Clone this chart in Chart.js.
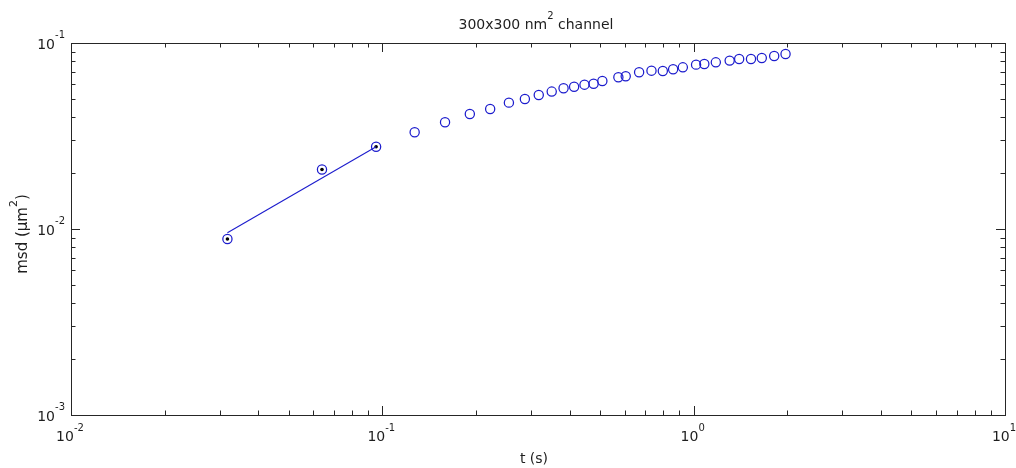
<!DOCTYPE html>
<html>
<head>
<meta charset="utf-8">
<script src="https://cdn.jsdelivr.net/npm/chart.js@4.4.1/dist/chart.umd.min.js"></script>
<style>
  html, body { margin: 0; padding: 0; background: #fff; }
  #wrap { width: 1016px; height: 468px; }
</style>
</head>
<body>
<div id="wrap"><canvas id="grafikMsd" width="1016" height="468"></canvas></div>
<script>
// === DATA ===
// first three points used for the fit (marked with a dot)
const fitT   = [0.0318, 0.0640, 0.0955];
const fitMsd = [0.00883, 0.0209, 0.0277];

// fitted line (two end points)
const lineT   = [0.0318, 0.0955];
const lineMsd = [0.00955, 0.0277];

// remaining msd points
const tRest = [0.127, 0.159, 0.191, 0.222, 0.255, 0.287, 0.318, 0.350, 0.382, 0.413,
               0.446, 0.477, 0.509, 0.573, 0.605, 0.668, 0.732, 0.796, 0.859, 0.923,
               1.018, 1.082, 1.178, 1.305, 1.400, 1.528, 1.655, 1.814, 1.973];
const msdRest = [0.0331, 0.0375, 0.0415, 0.0442, 0.0478, 0.0500, 0.0525, 0.0548, 0.0571, 0.0582,
                 0.0597, 0.0604, 0.0625, 0.0654, 0.0663, 0.0696, 0.0710, 0.0707, 0.0722, 0.0740,
                 0.0765, 0.0771, 0.0787, 0.0804, 0.0820, 0.0820, 0.0830, 0.0851, 0.0873];

// tick labels (10^exp)
const xDecades = [0.01, 0.1, 1, 10];
const xExp     = ['-2', '-1', '0', '1'];
const yDecades = [0.001, 0.01, 0.1];
const yExp     = ['-3', '-2', '-1'];

// === STYLE ===
const BLUE = 'rgb(28,28,205)';
const AXIS = '#262626';
const TEXT = '#1e1e1e';
const FONT = '14px "DejaVu Sans", sans-serif';
const SUP  = '10px "DejaVu Sans", sans-serif';
const FONT_Y = '15px "DejaVu Sans", sans-serif';
const SUP_Y  = '11px "DejaVu Sans", sans-serif';

const toXY = (xs, ys) => xs.map((x, i) => ({ x, y: ys[i] }));

// tulis teks dengan pangkat (superscript)
function drawParts(ctx, parts, x, y, align, fonts) {
  const f = fonts || [FONT, SUP];
  let w = 0;
  parts.forEach(p => { ctx.font = p.sup ? f[1] : f[0]; p.w = ctx.measureText(p.t).width; w += p.w; });
  let cx = align === 'right' ? x - w : align === 'center' ? x - w / 2 : x;
  ctx.textAlign = 'left';
  ctx.textBaseline = 'alphabetic';
  parts.forEach(p => {
    ctx.font = p.sup ? f[1] : f[0];
    ctx.fillText(p.t, cx, p.sup ? y - 10.5 : y);
    cx += p.w;
  });
}

// === AXES ala MATLAB ===
const axesMatlab = {
  id: 'axesMatlab',
  beforeDatasetsDraw(chart) {
    const { ctx, chartArea: a, scales } = chart;
    const sx = scales.x, sy = scales.y;
    ctx.save();
    ctx.strokeStyle = AXIS;
    ctx.lineWidth = 1;
    ctx.strokeRect(a.left + 0.5, a.top + 0.5, a.right - a.left, a.bottom - a.top);

    const MAJ = 9, MIN = 4.5;
    ctx.beginPath();
    // x ticks
    for (let i = 0; i < xDecades.length; i++) {
      const d = xDecades[i];
      const px = Math.round(sx.getPixelForValue(d)) + 0.5;
      ctx.moveTo(px, a.bottom); ctx.lineTo(px, a.bottom - MAJ);
      ctx.moveTo(px, a.top);    ctx.lineTo(px, a.top + MAJ);
      if (i < xDecades.length - 1) {
        for (let k = 2; k <= 9; k++) {
          const mx = Math.round(sx.getPixelForValue(d * k)) + 0.5;
          ctx.moveTo(mx, a.bottom); ctx.lineTo(mx, a.bottom - MIN);
          ctx.moveTo(mx, a.top);    ctx.lineTo(mx, a.top + MIN);
        }
      }
    }
    // y ticks
    for (let i = 0; i < yDecades.length; i++) {
      const d = yDecades[i];
      const py = Math.round(sy.getPixelForValue(d)) + 0.5;
      ctx.moveTo(a.left, py);  ctx.lineTo(a.left + MAJ, py);
      ctx.moveTo(a.right, py); ctx.lineTo(a.right - MAJ, py);
      if (i < yDecades.length - 1) {
        for (let k = 2; k <= 9; k++) {
          const my = Math.round(sy.getPixelForValue(d * k)) + 0.5;
          ctx.moveTo(a.left, my);  ctx.lineTo(a.left + MIN, my);
          ctx.moveTo(a.right, my); ctx.lineTo(a.right - MIN, my);
        }
      }
    }
    ctx.stroke();
    ctx.restore();
  },
  afterDraw(chart) {
    const { ctx, chartArea: a, scales } = chart;
    const sx = scales.x, sy = scales.y;
    ctx.save();
    ctx.fillStyle = TEXT;

    xDecades.forEach((d, i) => {
      const px = sx.getPixelForValue(d);
      drawParts(ctx, [{ t: '10' }, { t: xExp[i], sup: true }], px - 1, a.bottom + 26, 'center');
    });
    yDecades.forEach((d, i) => {
      const py = sy.getPixelForValue(d);
      drawParts(ctx, [{ t: '10' }, { t: yExp[i], sup: true }], a.left - 6, py + 5.5, 'right');
    });

    // judul
    drawParts(ctx, [{ t: '300x300 nm' }, { t: '2', sup: true }, { t: ' channel' }],
      (a.left + a.right) / 2 - 2, 29, 'center');
    // label x
    drawParts(ctx, [{ t: 't (s)' }], (a.left + a.right) / 2 - 4, 463, 'center');
    // label y (diputar)
    ctx.translate(27, (a.top + a.bottom) / 2 + 5);
    ctx.rotate(-Math.PI / 2);
    drawParts(ctx, [{ t: 'msd (\u03bcm' }, { t: '2', sup: true }, { t: ')' }], 0, 0, 'center', [FONT_Y, SUP_Y]);
    ctx.restore();
  }
};

// === CHART ===
const ctx = document.getElementById('grafikMsd').getContext('2d');
new Chart(ctx, {
  type: 'scatter',
  data: {
    datasets: [
      {
        label: 'fit',
        data: toXY(lineT, lineMsd),
        showLine: true,
        borderColor: BLUE, borderWidth: 1.1,
        pointRadius: 0,
      },
      {
        label: 'fit points',
        data: toXY(fitT, fitMsd),
        pointStyle: 'circle', pointRadius: 4.6,
        borderColor: BLUE, borderWidth: 1.25, backgroundColor: 'rgba(0,0,0,0)',
      },
      {
        label: 'fit dots',
        data: toXY(fitT, fitMsd),
        pointStyle: 'circle', pointRadius: 1.8,
        borderWidth: 0, backgroundColor: '#000',
      },
      {
        label: 'msd',
        data: toXY(tRest, msdRest),
        pointStyle: 'circle', pointRadius: 4.6,
        borderColor: BLUE, borderWidth: 1.25, backgroundColor: 'rgba(0,0,0,0)',
      }
    ]
  },
  options: {
    responsive: false,
    animation: false,
    layout: { padding: { left: 71, right: 11, top: 43, bottom: 53 } },
    plugins: { legend: { display: false }, tooltip: { enabled: false } },
    scales: {
      x: { type: 'logarithmic', min: 0.01, max: 10, display: false },
      y: { type: 'logarithmic', min: 0.001, max: 0.1, display: false }
    }
  },
  plugins: [axesMatlab]
});
</script>
</body>
</html>
